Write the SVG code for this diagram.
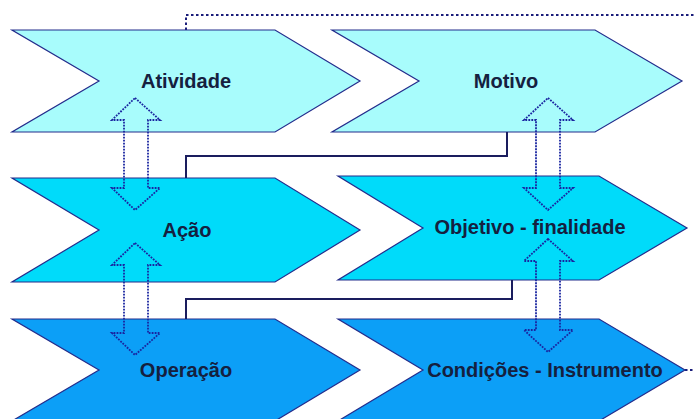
<svg xmlns="http://www.w3.org/2000/svg" width="694" height="419" viewBox="0 0 694 419">
<style>
.c{stroke:#232c8c;stroke-width:1.2;stroke-linejoin:miter}
.r1{fill:#a8fcfc}
.r2{fill:#00dbfa}
.r3{fill:#0c9ff7}
.t{font-family:"Liberation Sans",Arial,sans-serif;font-weight:bold;font-size:20px;fill:#15203f;text-anchor:middle}
.arr{fill:none;stroke:#1a25a0;stroke-width:1.8;stroke-dasharray:1.8 1.2}
.ln{fill:none;stroke:#1a1d5e;stroke-width:2}
.dot{fill:none;stroke:#1a1d7a;stroke-width:2;stroke-dasharray:2.5 2.5}
</style>
<rect width="694" height="419" fill="#fff"/>
<g id="connectors">
<polyline class="dot" points="186,30 186,15 694,15"/>
<polyline class="dot" points="685,370 694,370"/>
</g>
<g id="atividade">
<polygon class="c r1" points="12,30 275,30 360,81 275,132 12,132 99,81"/>
<text class="t" x="186" y="88">Atividade</text>
</g>
<g id="motivo">
<polygon class="c r1" points="332,30 595,30 682,81 595,132 332,132 419,81"/>
<text class="t" x="506" y="88">Motivo</text>
</g>
<g id="acao">
<polygon class="c r2" points="12,178 275,178 360,230 275,282 12,282 99,230"/>
<text class="t" x="187" y="237">Ação</text>
</g>
<g id="objetivo">
<polygon class="c r2" points="338,176 599,176 687,228 599,280 338,280 423,228"/>
<text class="t" x="530" y="234">Objetivo - finalidade</text>
</g>
<g id="operacao">
<polygon class="c r3" points="12,319 275,319 360,370 275,421 12,421 99,370"/>
<text class="t" x="186" y="377">Operação</text>
</g>
<g id="condicoes">
<polygon class="c r3" points="338,319 599,319 685,370 599,421 338,421 423,370"/>
<text class="t" x="545" y="377">Condições - Instrumento</text>
</g>
<g id="links">
<polyline class="ln" points="507,132 507,156 186,156 186,178"/>
<polyline class="ln" points="512,280 512,299 186,299 186,319"/>
<polygon class="arr" points="135,98 160,120 148,120 148,188 160,188 135,210 112,188 124,188 124,120 112,120"/>
<polygon class="arr" points="135,243 160,265 148,265 148,333 160,333 135,355 112,333 124,333 124,265 112,265"/>
<polygon class="arr" points="548,98 573,120 560,120 560,188 573,188 548,210 524,188 536,188 536,120 524,120"/>
<polygon class="arr" points="548,239 573,261 560,261 560,330 573,330 548,352 524,330 536,330 536,261 524,261"/>
</g>
</svg>
